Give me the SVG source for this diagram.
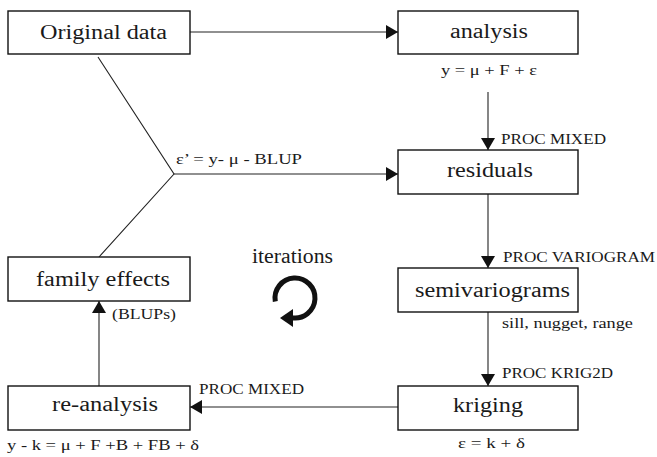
<svg xmlns="http://www.w3.org/2000/svg" width="657" height="457" viewBox="0 0 657 457">
<style>
.box{fill:#fff;stroke:#111;stroke-width:1.4}
.ln{fill:none;stroke:#222;stroke-width:1.1}
</style>
<defs>
<marker id="ah" viewBox="0 0 12 14" refX="12" refY="7" markerWidth="12" markerHeight="14" orient="auto" markerUnits="userSpaceOnUse">
<path d="M0,0 L12,7 L0,14 z" fill="#111"/>
</marker>
</defs>
<rect width="657" height="457" fill="#fff"/>
<g id="connectors">
<line class="ln" x1="190" y1="32" x2="398" y2="32" marker-end="url(#ah)"/>
<line class="ln" x1="488" y1="92" x2="488" y2="150" marker-end="url(#ah)"/>
<polyline class="ln" points="98,57 174,174 99,257"/>
<line class="ln" x1="174" y1="174" x2="398" y2="174" marker-end="url(#ah)"/>
<line class="ln" x1="488" y1="194" x2="488" y2="268" marker-end="url(#ah)"/>
<line class="ln" x1="488" y1="312" x2="488" y2="386" marker-end="url(#ah)"/>
<line class="ln" x1="398" y1="407" x2="190" y2="407" marker-end="url(#ah)"/>
<line class="ln" x1="99" y1="386" x2="99" y2="301" marker-end="url(#ah)"/>
<text font-family="Liberation Serif" font-size="14" fill="#1a1a1a" x="501" y="144" textLength="105" lengthAdjust="spacingAndGlyphs">PROC MIXED</text>
<text font-family="Liberation Serif" font-size="15" fill="#1a1a1a" x="176" y="164" textLength="126" lengthAdjust="spacingAndGlyphs">ε’ = y- μ - BLUP</text>
<text font-family="Liberation Serif" font-size="14" fill="#1a1a1a" x="503" y="262" textLength="152" lengthAdjust="spacingAndGlyphs">PROC VARIOGRAM</text>
<text font-family="Liberation Serif" font-size="15" fill="#1a1a1a" x="502" y="328" textLength="131" lengthAdjust="spacingAndGlyphs">sill, nugget, range</text>
<text font-family="Liberation Serif" font-size="14" fill="#1a1a1a" x="502" y="378" textLength="111" lengthAdjust="spacingAndGlyphs">PROC KRIG2D</text>
<text font-family="Liberation Serif" font-size="14" fill="#1a1a1a" x="199" y="394" textLength="105" lengthAdjust="spacingAndGlyphs">PROC MIXED</text>
<text font-family="Liberation Serif" font-size="15" fill="#1a1a1a" x="112" y="319" textLength="64" lengthAdjust="spacingAndGlyphs">(BLUPs)</text>
</g>
<g id="original-data">
<rect class="box" x="8" y="11" width="182" height="43"/>
<text font-family="Liberation Serif" font-size="20" fill="#1a1a1a" x="40" y="39" textLength="127" lengthAdjust="spacingAndGlyphs">Original data</text>
</g>
<g id="analysis">
<rect class="box" x="398" y="11" width="180" height="43"/>
<text font-family="Liberation Serif" font-size="20" fill="#1a1a1a" x="450" y="38" textLength="78" lengthAdjust="spacingAndGlyphs">analysis</text>
<text font-family="Liberation Serif" font-size="15" fill="#1a1a1a" x="441" y="75" textLength="96" lengthAdjust="spacingAndGlyphs">y = μ + F + ε</text>
</g>
<g id="residuals">
<rect class="box" x="398" y="150" width="180" height="44"/>
<text font-family="Liberation Serif" font-size="20" fill="#1a1a1a" x="447" y="177" textLength="86" lengthAdjust="spacingAndGlyphs">residuals</text>
</g>
<g id="semivariograms">
<rect class="box" x="398" y="268" width="180" height="44"/>
<text font-family="Liberation Serif" font-size="20" fill="#1a1a1a" x="415" y="297" textLength="155" lengthAdjust="spacingAndGlyphs">semivariograms</text>
</g>
<g id="kriging">
<rect class="box" x="398" y="386" width="180" height="44"/>
<text font-family="Liberation Serif" font-size="20" fill="#1a1a1a" x="453" y="412" textLength="70" lengthAdjust="spacingAndGlyphs">kriging</text>
<text font-family="Liberation Serif" font-size="15" fill="#1a1a1a" x="458" y="448" textLength="67" lengthAdjust="spacingAndGlyphs">ε = k + δ</text>
</g>
<g id="re-analysis">
<rect class="box" x="8" y="386" width="182" height="44"/>
<text font-family="Liberation Serif" font-size="20" fill="#1a1a1a" x="52" y="411" textLength="106" lengthAdjust="spacingAndGlyphs">re-analysis</text>
<text font-family="Liberation Serif" font-size="15" fill="#1a1a1a" x="7" y="450" textLength="192" lengthAdjust="spacingAndGlyphs">y - k = μ + F +B + FB + δ</text>
</g>
<g id="family-effects">
<rect class="box" x="8" y="257" width="182" height="44"/>
<text font-family="Liberation Serif" font-size="20" fill="#1a1a1a" x="36" y="286" textLength="134" lengthAdjust="spacingAndGlyphs">family effects</text>
</g>
<g id="iterations">
<text font-family="Liberation Serif" font-size="20" fill="#1a1a1a" x="252" y="263" textLength="81" lengthAdjust="spacingAndGlyphs">iterations</text>
<path d="M275.3,301.5 A20,20 0 1 1 291.5,317.7" fill="none" stroke="#111" stroke-width="5"/>
<path d="M280,318 L293,309 L293,327 z" fill="#111"/>
</g>
</svg>
